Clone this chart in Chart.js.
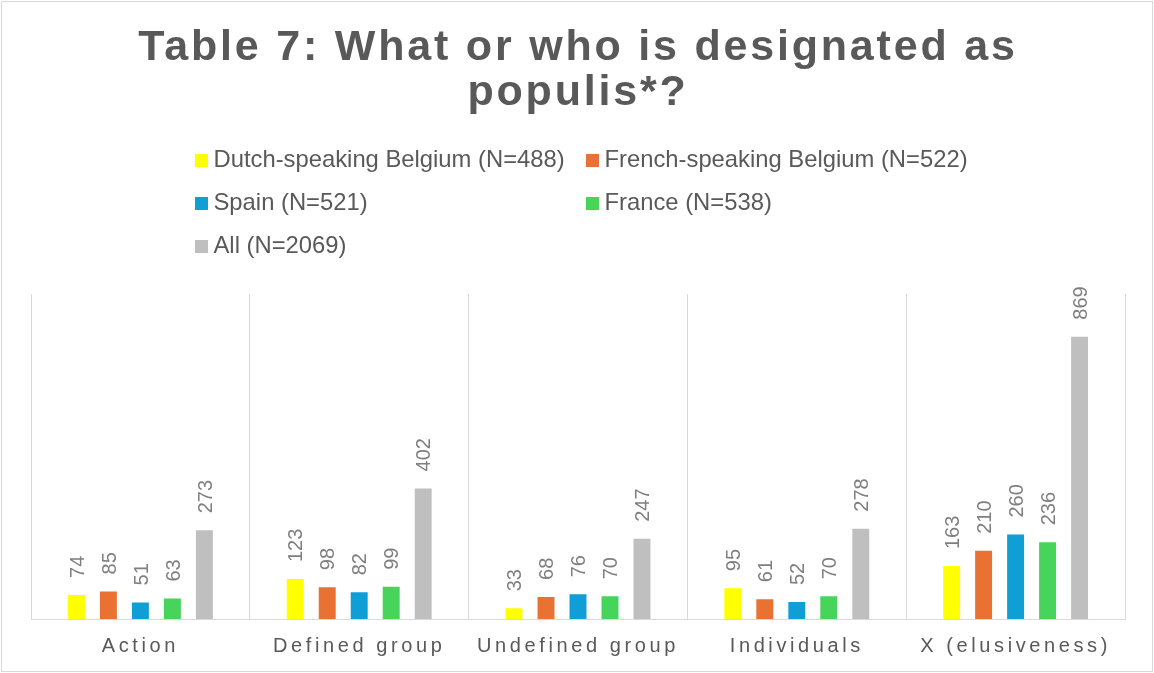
<!DOCTYPE html>
<html>
<head>
<meta charset="utf-8">
<script src="https://cdn.jsdelivr.net/npm/chart.js@4.4.1/dist/chart.umd.min.js"></script>
<style>
  html, body { margin: 0; padding: 0; background: #ffffff; }
  #wrap { width: 1154px; height: 673px; position: relative; }
</style>
</head>
<body>
<div id="wrap"><canvas id="c" width="1154" height="673"></canvas></div>
<script>
// ---- Data ----
const categories = ['Action', 'Defined group', 'Undefined group', 'Individuals', 'X (elusiveness)'];
const seriesLabels = ['Dutch-speaking Belgium (N=488)', 'French-speaking Belgium (N=522)', 'Spain (N=521)', 'France (N=538)', 'All (N=2069)'];
const dutchBelgium  = [74, 123, 33, 95, 163];
const frenchBelgium = [85, 98, 68, 61, 210];
const spain         = [51, 82, 76, 52, 260];
const france        = [63, 99, 70, 70, 236];
const allCountries  = [273, 402, 247, 278, 869];
const titleLines = ['Table 7: What or who is designated as', 'populis*?'];

// ---- Styles ----
const FONT = "'Liberation Sans', Arial, Helvetica, sans-serif";
const colors = ['#FFFF00', '#E97132', '#0F9ED5', '#47D45A', '#BFBFBF'];
const seriesValues = [dutchBelgium, frenchBelgium, spain, france, allCountries];

const datasets = seriesValues.map((vals, i) => ({
  label: seriesLabels[i],
  data: vals,
  backgroundColor: colors[i],
  borderWidth: 0,
  categoryPercentage: 0.731,
  barPercentage: 0.53
}));

// rotated value labels above bars
const valueLabels = {
  id: 'valueLabels',
  afterDatasetsDraw(chart) {
    const ctx = chart.ctx;
    ctx.save();
    ctx.letterSpacing = '0px';
    ctx.font = '20px ' + FONT;
    ctx.fillStyle = '#7F7F7F';
    ctx.textAlign = 'left';
    ctx.textBaseline = 'alphabetic';
    chart.data.datasets.forEach((ds, di) => {
      const meta = chart.getDatasetMeta(di);
      meta.data.forEach((bar, j) => {
        ctx.save();
        ctx.translate(bar.x + 0.358 * 20, bar.y - 17);
        ctx.rotate(-Math.PI / 2);
        ctx.fillText(String(ds.data[j]), 0, 0);
        ctx.restore();
      });
    });
    ctx.restore();
  }
};

// grid-style legend (2 columns)
const gridLegend = {
  id: 'gridLegend',
  afterDraw(chart) {
    const ctx = chart.ctx;
    const cx = chart.width / 2;
    const colX = [cx - 382, cx + 9];
    const rowY = [160.5, 203.5, 246.5];
    const box = 13;
    ctx.save();
    ctx.letterSpacing = '0px';
    ctx.font = '23.8px ' + FONT;
    ctx.textAlign = 'left';
    ctx.textBaseline = 'middle';
    chart.data.datasets.forEach((ds, i) => {
      const x = colX[i % 2];
      const y = rowY[Math.floor(i / 2)];
      ctx.fillStyle = ds.backgroundColor;
      ctx.fillRect(x, y - box / 2, box, box);
      ctx.fillStyle = '#595959';
      ctx.fillText(ds.label, x + box + 5.5, y);
    });
    ctx.restore();
  }
};

// outer chart border
const frame = {
  id: 'frame',
  afterDraw(chart) {
    const ctx = chart.ctx;
    ctx.save();
    ctx.strokeStyle = '#D9D9D9';
    ctx.lineWidth = 1;
    ctx.strokeRect(1.5, 1.5, chart.width - 3, chart.height - 3);
    ctx.restore();
  }
};

const chart = new Chart(document.getElementById('c'), {
  type: 'bar',
  data: { labels: categories, datasets },
  options: {
    responsive: false,
    animation: false,
    layout: { padding: { left: 31, right: 29, top: 0, bottom: 0 } },
    plugins: {
      legend: { display: false },
      tooltip: { enabled: false },
      title: {
        display: true,
        text: titleLines,
        color: '#595959',
        font: { family: FONT, size: 43, weight: 'bold', lineHeight: 1.06 },
        padding: { top: 25, bottom: 178 }
      }
    },
    scales: {
      x: {
        offset: true,
        grid: { offset: true, color: '#D9D9D9', lineWidth: 1, drawTicks: false },
        border: { color: '#D9D9D9', width: 1 },
        ticks: {
          color: '#595959',
          font: { family: FONT, size: 20 },
          padding: 15,
          maxRotation: 0,
          minRotation: 0,
          autoSkip: false
        }
      },
      y: {
        display: false,
        min: 0,
        max: 1000
      }
    }
  },
  plugins: [valueLabels, gridLegend, frame]
});

// letter spacing for title and category labels
(function () {
  const tb = chart.titleBlock;
  const tDraw = tb.draw.bind(tb);
  tb.draw = function (area) {
    const c = chart.ctx; c.save(); c.letterSpacing = '2.8px'; tDraw(area); c.restore();
  };
  const xs = chart.scales.x;
  const xDraw = xs.drawLabels.bind(xs);
  xs.drawLabels = function (area) {
    const c = chart.ctx; c.save(); c.letterSpacing = '3.6px'; xDraw(area); c.restore();
  };
  chart.draw();
})();
</script>
</body>
</html>
